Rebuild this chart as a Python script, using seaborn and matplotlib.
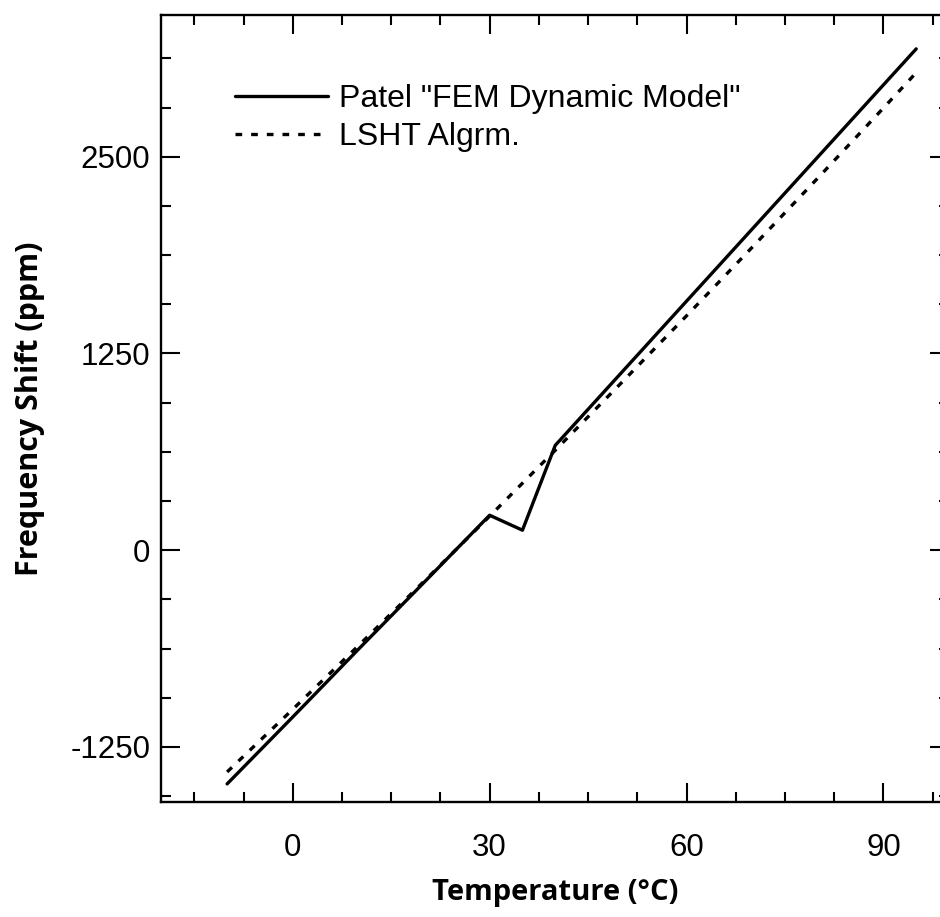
import matplotlib
matplotlib.use("Agg")
import matplotlib.pyplot as plt
from matplotlib.ticker import MultipleLocator
import numpy as np
import pandas as pd
import seaborn as sns

# Series values (temperature in °C, frequency shift in ppm)
fem_temp = [-10, 0, 10, 20, 30, 35, 40, 95]
fem_shift = [-1485, -1060, -630, -205, 222, 127, 666, 3185]

lsht_temp = [-10, 0, 10, 20, 30, 40, 50, 60, 70, 80, 90, 95]
lsht_shift = [-1409, -1011, -607, -198, 216, 635, 1060, 1489, 1924, 2364, 2809, 3034]

series_names = ['Patel "FEM Dynamic Model"', "LSHT Algrm."]

x_ticks = [0, 30, 60, 90]
y_ticks = [-1250, 0, 1250, 2500]

sns.set_theme(style="white")
plt.rcParams["font.family"] = ["Liberation Sans", "DejaVu Sans"]
plt.rcParams["axes.unicode_minus"] = False
plt.rcParams["text.color"] = "black"

fem = pd.DataFrame({"T": fem_temp, "shift": fem_shift})
lsht = pd.DataFrame({"T": lsht_temp, "shift": lsht_shift})

fig = plt.figure(figsize=(9.4, 9.17), dpi=100, facecolor="white")
ax = fig.add_axes([0.1718, 0.1254, 0.8378, 0.8582])
ax.set_facecolor("white")

sns.lineplot(data=fem, x="T", y="shift", ax=ax, color="black",
             linewidth=2.4, label=series_names[0], estimator=None, sort=False)
sns.lineplot(data=lsht, x="T", y="shift", ax=ax, color="black",
             linewidth=2.4, label=series_names[1], estimator=None, sort=False,
             linestyle=(0, (2.0, 2.7)))

ax.set_xlim(-20, 100)
ax.set_ylim(-1600, 3400)
ax.set_xticks(x_ticks)
ax.set_yticks(y_ticks)
ax.xaxis.set_minor_locator(MultipleLocator(7.5))
ax.yaxis.set_minor_locator(MultipleLocator(312.5))

for side in ["left", "right", "top", "bottom"]:
    ax.spines[side].set_visible(True)
    ax.spines[side].set_color("black")
    ax.spines[side].set_linewidth(1.7)

ax.tick_params(axis="both", which="both", direction="in", color="black",
               left=True, bottom=True, top=True, right=True, width=1.5)
ax.tick_params(axis="both", which="major", length=13.5, labelsize=22.5,
               labelcolor="black")
ax.tick_params(axis="both", which="minor", length=7.5)
ax.tick_params(axis="x", which="major", pad=22)
ax.tick_params(axis="y", which="major", pad=8)

ax.set_xlabel("Temperature (°C)", labelpad=11,
              family=["Open Sans", "DejaVu Sans"], weight="bold",
              size=21, color="black")
ax.set_ylabel("Frequency Shift (ppm)", labelpad=18,
              family=["Open Sans", "DejaVu Sans"], weight="bold",
              size=22, color="black")

leg = ax.legend(loc="upper left", bbox_to_anchor=(0.25, 0.908),
                bbox_transform=fig.transFigure, frameon=False,
                fontsize=23, handlelength=2.9, handletextpad=0.37,
                labelspacing=0.25, borderpad=0, borderaxespad=0)
for txt in leg.get_texts():
    txt.set_color("black")

ax.grid(False)
fig.savefig("out.png", dpi=100, facecolor="white")
